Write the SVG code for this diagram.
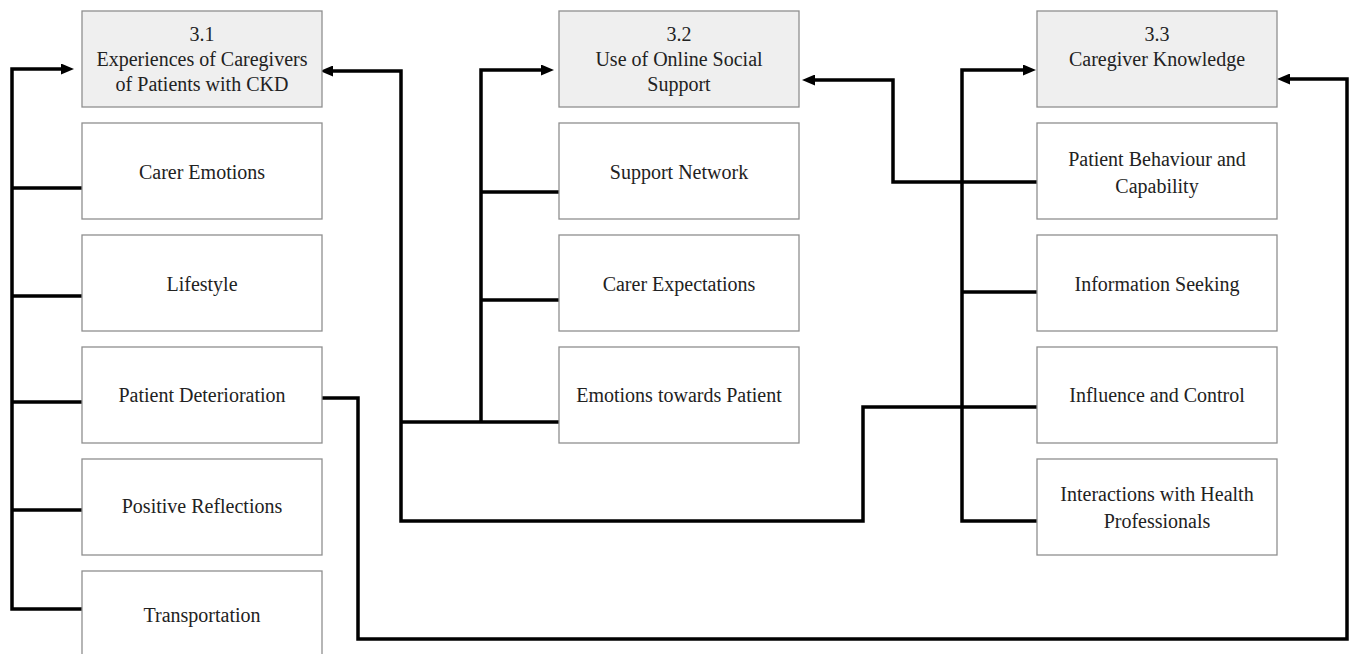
<svg xmlns="http://www.w3.org/2000/svg" width="1354" height="654" viewBox="0 0 1354 654">
<defs>
<style>
.box{fill:#ffffff;stroke:#8f8f8f;stroke-width:1.3}
.hdr{fill:#efefef;stroke:#8f8f8f;stroke-width:1.3}
text{font-family:"Liberation Serif","Times New Roman",serif;font-size:20px;fill:#222222;text-anchor:middle}
.con{fill:none;stroke:#000000;stroke-width:3.5;stroke-linejoin:miter;stroke-linecap:butt}
</style>
<marker id="arr" markerUnits="userSpaceOnUse" markerWidth="13" markerHeight="11" refX="4" refY="5.5" orient="auto">
<path d="M0,0 L13,5.5 L0,11 z" fill="#000000"/>
</marker>
</defs>
<rect width="1354" height="654" fill="#ffffff"/>

<g id="connectors">
<path class="con" d="M82,609 H12 V69 H65" marker-end="url(#arr)"/>
<path class="con" d="M12,188 H82 M12,296 H82 M12,402 H82 M12,510 H82"/>
<path class="con" d="M1037,407 H863 V521 H401 V71 H329" marker-end="url(#arr)"/>
<path class="con" d="M560,422 H401"/>
<path class="con" d="M481,422 V70 H545" marker-end="url(#arr)"/>
<path class="con" d="M481,192 H559 M481,300 H559"/>
<path class="con" d="M1037,182 H893 V80 H811" marker-end="url(#arr)"/>
<path class="con" d="M1037,521 H962 V70 H1027" marker-end="url(#arr)"/>
<path class="con" d="M962,292 H1037"/>
<path class="con" d="M321,398 H358 V639 H1347 V79 H1286" marker-end="url(#arr)"/>
</g>

<g id="n31">
<rect class="hdr" x="82" y="11" width="240" height="96"/>
<text x="202" y="41">3.1</text>
<text x="202" y="66">Experiences of Caregivers</text>
<text x="202" y="91">of Patients with CKD</text>
</g>
<g id="n31a"><rect class="box" x="82" y="123" width="240" height="96"/><text x="202" y="179">Carer Emotions</text></g>
<g id="n31b"><rect class="box" x="82" y="235" width="240" height="96"/><text x="202" y="291">Lifestyle</text></g>
<g id="n31c"><rect class="box" x="82" y="347" width="240" height="96"/><text x="202" y="402">Patient Deterioration</text></g>
<g id="n31d"><rect class="box" x="82" y="459" width="240" height="96"/><text x="202" y="513">Positive Reflections</text></g>
<g id="n31e"><rect class="box" x="82" y="571" width="240" height="96"/><text x="202" y="622">Transportation</text></g>

<g id="n32">
<rect class="hdr" x="559" y="11" width="240" height="96"/>
<text x="679" y="41">3.2</text>
<text x="679" y="66">Use of Online Social</text>
<text x="679" y="91">Support</text>
</g>
<g id="n32a"><rect class="box" x="559" y="123" width="240" height="96"/><text x="679" y="179">Support Network</text></g>
<g id="n32b"><rect class="box" x="559" y="235" width="240" height="96"/><text x="679" y="291">Carer Expectations</text></g>
<g id="n32c"><rect class="box" x="559" y="347" width="240" height="96"/><text x="679" y="402">Emotions towards Patient</text></g>

<g id="n33">
<rect class="hdr" x="1037" y="11" width="240" height="96"/>
<text x="1157" y="41">3.3</text>
<text x="1157" y="66">Caregiver Knowledge</text>
</g>
<g id="n33a"><rect class="box" x="1037" y="123" width="240" height="96"/><text x="1157" y="166">Patient Behaviour and</text><text x="1157" y="193">Capability</text></g>
<g id="n33b"><rect class="box" x="1037" y="235" width="240" height="96"/><text x="1157" y="291">Information Seeking</text></g>
<g id="n33c"><rect class="box" x="1037" y="347" width="240" height="96"/><text x="1157" y="402">Influence and Control</text></g>
<g id="n33d"><rect class="box" x="1037" y="459" width="240" height="96"/><text x="1157" y="501">Interactions with Health</text><text x="1157" y="528">Professionals</text></g>
</svg>
